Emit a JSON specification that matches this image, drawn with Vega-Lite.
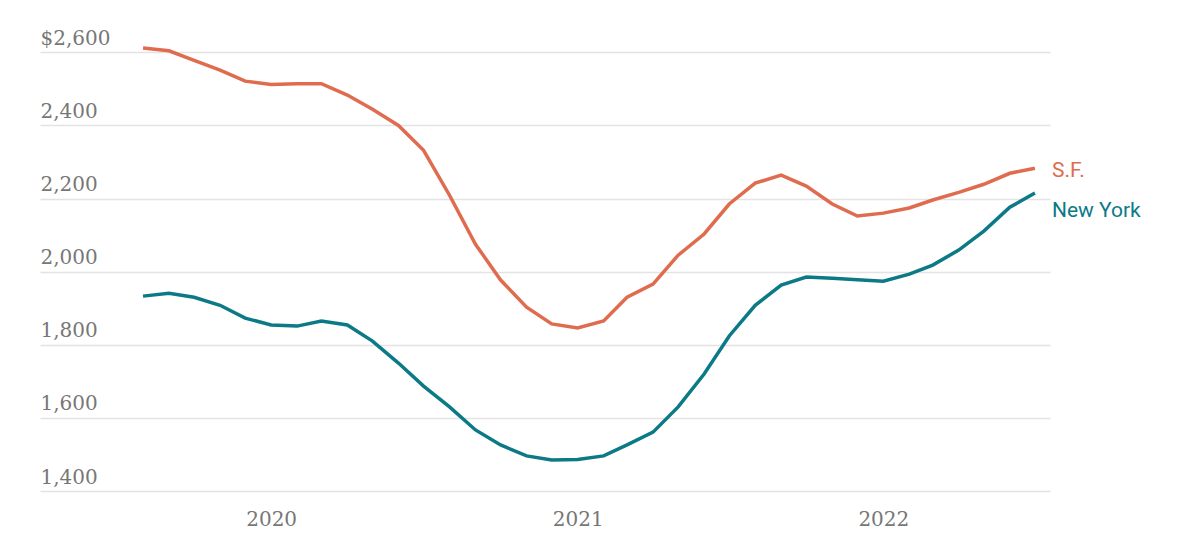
{
  "$schema": "https://vega.github.io/schema/vega-lite/v6.json",
  "width": 1010,
  "height": 457,
  "autosize": {"type": "none"},
  "padding": {"left": 40, "top": 34, "right": 136, "bottom": 55},
  "background": "white",
  "config": {"view": {"stroke": null}},
  "data": {"values": [
    {"date": "2019-08-01", "city": "S.F.", "rent": 2612},
    {"date": "2019-09-01", "city": "S.F.", "rent": 2604},
    {"date": "2019-10-01", "city": "S.F.", "rent": 2578},
    {"date": "2019-11-01", "city": "S.F.", "rent": 2551},
    {"date": "2019-12-01", "city": "S.F.", "rent": 2521},
    {"date": "2020-01-01", "city": "S.F.", "rent": 2512},
    {"date": "2020-02-01", "city": "S.F.", "rent": 2514},
    {"date": "2020-03-01", "city": "S.F.", "rent": 2514},
    {"date": "2020-04-01", "city": "S.F.", "rent": 2483},
    {"date": "2020-05-01", "city": "S.F.", "rent": 2444},
    {"date": "2020-06-01", "city": "S.F.", "rent": 2400},
    {"date": "2020-07-01", "city": "S.F.", "rent": 2332},
    {"date": "2020-08-01", "city": "S.F.", "rent": 2209},
    {"date": "2020-09-01", "city": "S.F.", "rent": 2075},
    {"date": "2020-10-01", "city": "S.F.", "rent": 1977},
    {"date": "2020-11-01", "city": "S.F.", "rent": 1903},
    {"date": "2020-12-01", "city": "S.F.", "rent": 1857},
    {"date": "2021-01-01", "city": "S.F.", "rent": 1846},
    {"date": "2021-02-01", "city": "S.F.", "rent": 1865},
    {"date": "2021-03-01", "city": "S.F.", "rent": 1930},
    {"date": "2021-04-01", "city": "S.F.", "rent": 1966},
    {"date": "2021-05-01", "city": "S.F.", "rent": 2045},
    {"date": "2021-06-01", "city": "S.F.", "rent": 2103},
    {"date": "2021-07-01", "city": "S.F.", "rent": 2185},
    {"date": "2021-08-01", "city": "S.F.", "rent": 2242},
    {"date": "2021-09-01", "city": "S.F.", "rent": 2264},
    {"date": "2021-10-01", "city": "S.F.", "rent": 2234},
    {"date": "2021-11-01", "city": "S.F.", "rent": 2185},
    {"date": "2021-12-01", "city": "S.F.", "rent": 2152},
    {"date": "2022-01-01", "city": "S.F.", "rent": 2160},
    {"date": "2022-02-01", "city": "S.F.", "rent": 2174},
    {"date": "2022-03-01", "city": "S.F.", "rent": 2196},
    {"date": "2022-04-01", "city": "S.F.", "rent": 2217},
    {"date": "2022-05-01", "city": "S.F.", "rent": 2239},
    {"date": "2022-06-01", "city": "S.F.", "rent": 2269},
    {"date": "2022-07-01", "city": "S.F.", "rent": 2283},
    {"date": "2019-08-01", "city": "New York", "rent": 1933},
    {"date": "2019-09-01", "city": "New York", "rent": 1941},
    {"date": "2019-10-01", "city": "New York", "rent": 1930},
    {"date": "2019-11-01", "city": "New York", "rent": 1908},
    {"date": "2019-12-01", "city": "New York", "rent": 1873},
    {"date": "2020-01-01", "city": "New York", "rent": 1854},
    {"date": "2020-02-01", "city": "New York", "rent": 1851},
    {"date": "2020-03-01", "city": "New York", "rent": 1865},
    {"date": "2020-04-01", "city": "New York", "rent": 1854},
    {"date": "2020-05-01", "city": "New York", "rent": 1810},
    {"date": "2020-06-01", "city": "New York", "rent": 1750},
    {"date": "2020-07-01", "city": "New York", "rent": 1687},
    {"date": "2020-08-01", "city": "New York", "rent": 1630},
    {"date": "2020-09-01", "city": "New York", "rent": 1567},
    {"date": "2020-10-01", "city": "New York", "rent": 1526},
    {"date": "2020-11-01", "city": "New York", "rent": 1496},
    {"date": "2020-12-01", "city": "New York", "rent": 1485},
    {"date": "2021-01-01", "city": "New York", "rent": 1486},
    {"date": "2021-02-01", "city": "New York", "rent": 1496},
    {"date": "2021-03-01", "city": "New York", "rent": 1526},
    {"date": "2021-04-01", "city": "New York", "rent": 1561},
    {"date": "2021-05-01", "city": "New York", "rent": 1630},
    {"date": "2021-06-01", "city": "New York", "rent": 1720},
    {"date": "2021-07-01", "city": "New York", "rent": 1824},
    {"date": "2021-08-01", "city": "New York", "rent": 1908},
    {"date": "2021-09-01", "city": "New York", "rent": 1963},
    {"date": "2021-10-01", "city": "New York", "rent": 1985},
    {"date": "2021-11-01", "city": "New York", "rent": 1982},
    {"date": "2021-12-01", "city": "New York", "rent": 1978},
    {"date": "2022-01-01", "city": "New York", "rent": 1974},
    {"date": "2022-02-01", "city": "New York", "rent": 1993},
    {"date": "2022-03-01", "city": "New York", "rent": 2018},
    {"date": "2022-04-01", "city": "New York", "rent": 2059},
    {"date": "2022-05-01", "city": "New York", "rent": 2111},
    {"date": "2022-06-01", "city": "New York", "rent": 2176},
    {"date": "2022-07-01", "city": "New York", "rent": 2215}
  ]},
  "encoding": {
    "x": {
      "field": "date", "type": "temporal",
      "scale": {"domain": [{"year": 2019, "month": 3, "date": 31}, {"year": 2022, "month": 7, "date": 19}]},
      "axis": {
        "title": null, "grid": false, "domain": false, "ticks": false,
        "values": [{"year": 2020, "month": 1, "date": 1}, {"year": 2021, "month": 1, "date": 1}, {"year": 2022, "month": 1, "date": 1}],
        "format": "%Y",
        "labelFont": "DejaVu Serif", "labelFontSize": 20, "labelColor": "#777777",
        "labelBaseline": "alphabetic", "labelPadding": 34
      }
    },
    "y": {
      "field": "rent", "type": "quantitative",
      "scale": {"domain": [1400, 2650], "nice": false, "zero": false},
      "axis": {
        "title": null, "domain": false, "ticks": false,
        "values": [1400, 1600, 1800, 2000, 2200, 2400, 2600],
        "labelExpr": "datum.value == 2600 ? '$2,600' : format(datum.value, ',')",
        "labelAlign": "left", "labelBaseline": "alphabetic", "labelPadding": 0, "labelOffset": -8,
        "labelFont": "DejaVu Serif", "labelFontSize": 20, "labelColor": "#777777",
        "gridColor": "#e3e3e3", "gridWidth": 1.5
      }
    },
    "color": {
      "field": "city", "type": "nominal",
      "scale": {"domain": ["S.F.", "New York"], "range": ["#e06c4f", "#0b7a86"]},
      "legend": null
    }
  },
  "layer": [
    {"mark": {"type": "line", "strokeWidth": 3.5, "interpolate": "linear"}},
    {
      "transform": [{"filter": "datum.city == 'S.F.' && year(datum.date) == 2022 && month(datum.date) == 6"}],
      "mark": {"type": "text", "align": "left", "baseline": "middle", "dx": 17, "dy": 3, "font": "Roboto", "fontSize": 21},
      "encoding": {"text": {"field": "city"}}
    },
    {
      "transform": [{"filter": "datum.city == 'New York' && year(datum.date) == 2022 && month(datum.date) == 6"}],
      "mark": {"type": "text", "align": "left", "baseline": "middle", "dx": 17, "dy": 18, "font": "Roboto", "fontSize": 21},
      "encoding": {"text": {"field": "city"}}
    }
  ]
}
